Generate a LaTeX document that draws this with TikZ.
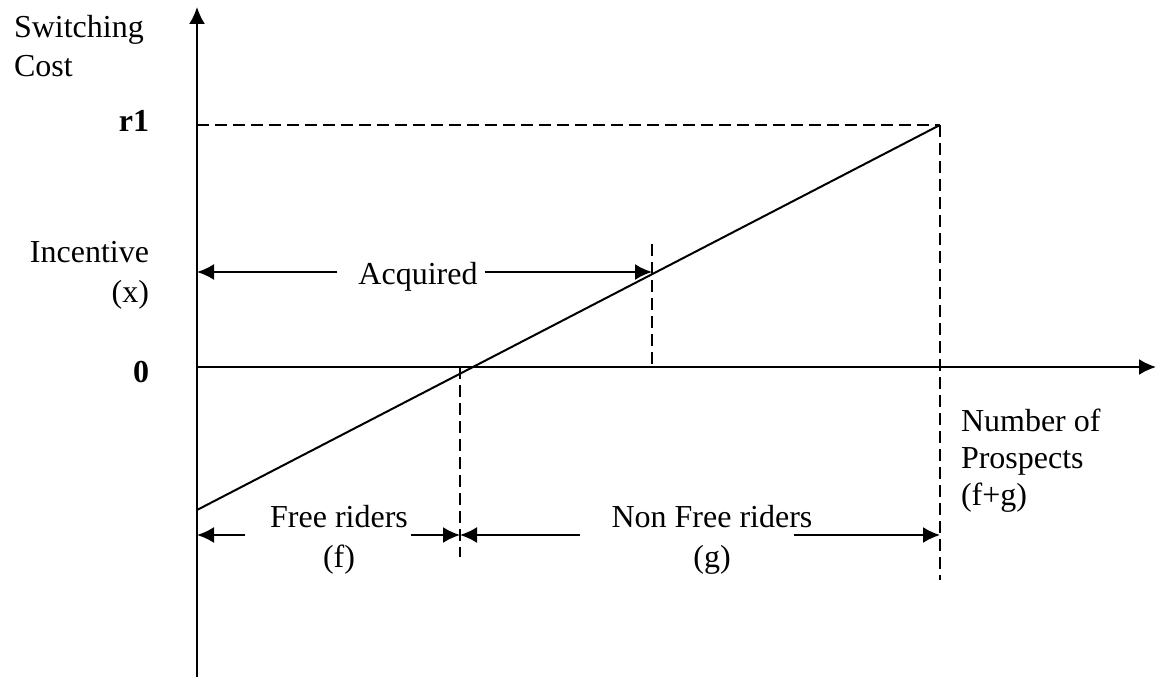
\documentclass[tikz,border=0pt]{standalone}
\usepackage{fontspec}
\setmainfont{Liberation Serif}
\usetikzlibrary{arrows.meta}

\begin{document}
\begin{tikzpicture}[x=1pt,y=-1pt,line width=2pt,
    axisarrow/.style={-{Latex[length=17pt,width=16pt]}},
    dimarrow/.style={-{Latex[length=17pt,width=16pt]}},
    guide/.style={dash pattern=on 12pt off 6pt, line width=1.8pt}]
			\tikzstyle{every node}+=[inner sep=0pt, font=\fontsize{32}{38}\selectfont]
			\useasboundingbox (0,0) rectangle (1160,679);
			\coordinate (origin) at (197,367);
			\coordinate (ytop) at (197,7);
			\coordinate (ybot) at (197,677);
			\coordinate (xtip) at (1156,367);
			\coordinate (r1axis) at (197,125);
			\coordinate (r1pt) at (940,125);
			\coordinate (fgend) at (940,580);
			\coordinate (lowpt) at (197,510);
			\coordinate (acqtop) at (652,244);
			\coordinate (acqbot) at (652,367);
			\coordinate (ftop) at (460,367);
			\coordinate (fbot) at (460,557);
			\draw [black, axisarrow] (ybot) -- (ytop);
			\draw [black, axisarrow] (origin) -- (xtip);
			\draw [black, guide] (r1axis) -- (r1pt);
			\draw [black, guide] (r1pt) -- (fgend);
			\draw [black, guide] (acqtop) -- (acqbot);
			\draw [black, guide] (ftop) -- (fbot);
			\draw [black] (lowpt) -- (r1pt);
			\node (ylab1) [anchor=base west] at (13,38) {Switching};
			\node (ylab2) [anchor=base west] at (13,77) {Cost};
			\node (r1) [anchor=base east] at (150,132) {\bfseries r1};
			\node (inc1) [anchor=base east] at (150,263) {Incentive};
			\node (inc2) [anchor=base east] at (150,302) {(x)};
			\node (zero) [anchor=base east] at (150,382) {\bfseries 0};
			\node (acq) [anchor=base] at (418,285) {Acquired};
			\node (free1) [anchor=base] at (339,527) {Free riders};
			\node (free2) [anchor=base] at (339,567) {(f)};
			\node (nonfree1) [anchor=base] at (712,527) {Non Free riders};
			\node (nonfree2) [anchor=base] at (712,567) {(g)};
			\node (xlab1) [anchor=base west] at (960,431) {Number of};
			\node (xlab2) [anchor=base west] at (960,468) {Prospects};
			\node (xlab3) [anchor=base west] at (960,505) {(f+g)};
			\coordinate (acqleft) at (197,272);
			\coordinate (acqright) at (652,272);
			\coordinate (fleft) at (197,535);
			\coordinate (fmid) at (460,535);
			\coordinate (fright) at (940,535);
			\draw [black, dimarrow] (acq.west |- acqleft) ++(-20,0) -- (acqleft);
			\draw [black, dimarrow] (acq.east |- acqright) ++(6,0) -- (acqright);
			\draw [black, dimarrow] (245,535) -- (fleft);
			\draw [black, dimarrow] (411,535) -- (fmid);
			\draw [black, dimarrow] (580,535) -- (fmid);
			\draw [black, dimarrow] (794,535) -- (fright);
\end{tikzpicture}
\end{document}
